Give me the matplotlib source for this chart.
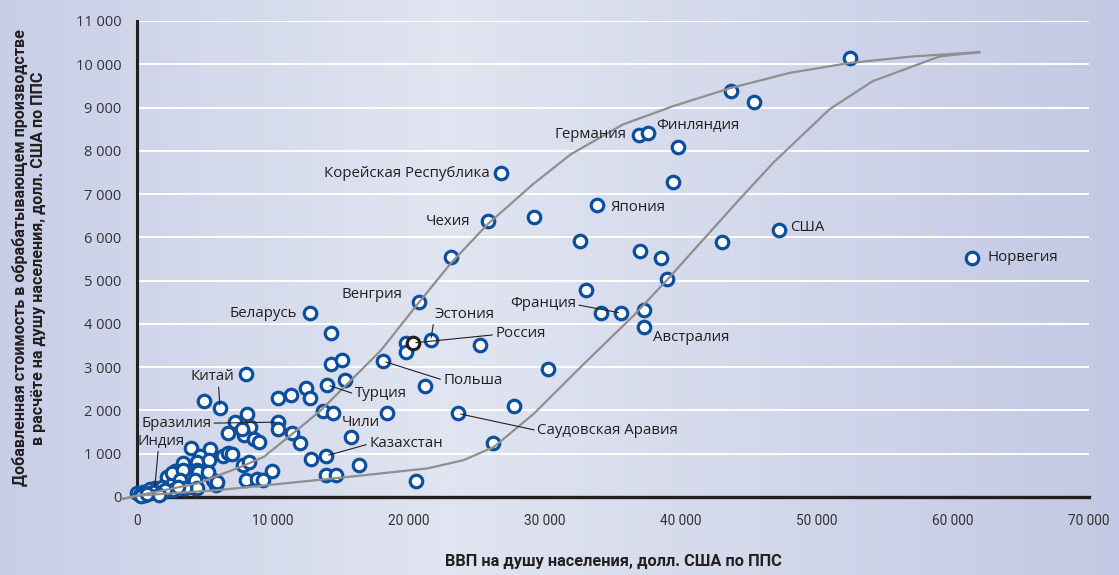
import numpy as np
import matplotlib
matplotlib.use("Agg")
import matplotlib.pyplot as plt
from matplotlib.colors import LinearSegmentedColormap

# ── data ──────────────────────────────────────────────────
# GDP per capita, PPP USD
gdp = [
    61400, 47200, 52400, 43700, 45400, 36900, 37600, 39800, 39400, 33800,
    32600, 37000, 38500, 39000, 43000, 33000, 35600, 34100, 37300, 37300,
    26800, 25800, 29200, 23100, 20700, 12700, 14300, 21600, 19800, 19800,
    25200, 14300, 15100, 18100, 30200, 15300, 14000, 12400, 12700, 21200,
    27700, 13700, 14400, 18400, 23600, 15700, 13900, 12800, 26200, 16300,
    13900, 14600, 20500, 12000, 11300, 10400, 4900, 6100, 8000, 8100,
    10400, 10400, 7200, 8300, 6700, 7900, 8600, 9000, 11400, 9900,
    7800, 8200, 8000, 8800, 9300, 5600, 5800, 4000, 5400, 4600,
    6300, 6700, 3400, 4400, 5300, 2800, 4400, 4300, 2500, 3400,
    2200, 1300, 0, 460, 960, 1810, 2670, 2550, 3400, 3160,
    4500, 5240, 4260, 4390, 3530, 2670, 1930, 1560, 590, 220,
    960, 2060, 3010, 7690, 5860, 1200, 300, 700, 1600, 7000,
]
# manufacturing value added per capita, PPP USD
mva = [
    5530, 6180, 10150, 9380, 9130, 8370, 8420, 8090, 7270, 6740,
    5920, 5680, 5520, 5040, 5900, 4780, 4250, 4250, 4320, 3920,
    7480, 6370, 6460, 5540, 4500, 4250, 3780, 3620, 3570, 3350,
    3520, 3080, 3160, 3140, 2950, 2700, 2590, 2530, 2280, 2560,
    2100, 1980, 1930, 1930, 1930, 1390, 950, 870, 1240, 750,
    510, 510, 380, 1250, 2350, 2280, 2210, 2060, 2840, 1910,
    1730, 1580, 1740, 1620, 1480, 1430, 1350, 1280, 1470, 590,
    740, 810, 390, 410, 390, 390, 280, 1140, 1120, 950,
    950, 1010, 790, 810, 850, 600, 620, 200, 320, 200,
    470, 200, 85, 120, 180, 240, 320, 550, 620, 390,
    580, 580, 390, 200, 200, 160, 120, 85, 50, 50,
    90, 160, 230, 1580, 350, 120, 20, 60, 40, 1000,
]

# Russia is highlighted with a black ring
russia = (20300, 3560)

# labelled countries: name, gdp, mva
lab_names = ["Норвегия", "США", "Финляндия", "Германия", "Корейская Республика",
             "Чехия", "Япония", "Венгрия", "Франция", "Австралия", "Эстония",
             "Россия", "Беларусь", "Польша", "Турция", "Китай", "Бразилия",
             "Индия", "Чили", "Казахстан", "Саудовская Аравия"]
lab_x = [61400, 47200, 37600, 36900, 26800, 25800, 33800, 20700, 35600, 37300,
         21600, 20300, 12700, 18100, 14000, 6100, 10400, 1300, 14400, 13900, 23600]
lab_y = [5530, 6180, 8420, 8370, 7480, 6370, 6740, 4500, 4250, 3920,
         3620, 3560, 4250, 3140, 2590, 2060, 1730, 200, 1930, 950, 1930]

# envelope curves
upper_x = [-1000, 0, 4460, 7640, 9330, 12050, 13520, 14990, 17930, 20720, 23070,
           25770, 29120, 31900, 35730, 39400, 43640, 47980, 52380, 57000, 61940]
upper_y = [-40, 30, 316, 698, 929, 1620, 2005, 2465, 3387, 4493, 5400,
           6300, 7230, 7920, 8610, 9030, 9450, 9800, 10030, 10180, 10280]
lower_x = [-1000, 0, 6000, 12050, 16000, 21360, 24000, 26250, 29190, 32870,
           36540, 39070, 42300, 44300, 46770, 50920, 54100, 59000, 61940]
lower_y = [-40, 30, 160, 353, 480, 661, 850, 1159, 1928, 3080,
           4200, 5050, 6180, 6880, 7720, 8960, 9610, 10180, 10280]

# ── label placement: offset in pixels, alignment, leader relpos ──
placement = {
    "Норвегия":             (15, 0, "left", None),
    "США":                  (11, 2, "left", None),
    "Финляндия":            (8, 7, "left", None),
    "Германия":             (-12, 0, "right", None),
    "Корейская Республика": (-12, 0, "right", None),
    "Чехия":                (-18, 0, "right", None),
    "Япония":               (14, -2, "left", None),
    "Венгрия":              (-16, 8, "right", None),
    "Франция":              (-45, 10, "right", (1.0, 0.4)),
    "Австралия":            (9, -10, "left", None),
    "Эстония":              (4, 26, "left", (0.0, 0.45)),
    "Россия":               (82, 9, "left", (0.0, 0.45)),
    "Беларусь":             (-13, 0, "right", None),
    "Польша":               (60, -19, "left", (0.0, 0.5)),
    "Турция":               (27, -9, "left", (0.0, 0.5)),
    "Китай":                (-8, 31, "center", (0.65, 0.0)),
    "Бразилия":             (-67, -1, "right", (1.0, 0.5)),
    "Индия":                (6, 47, "center", (0.45, 0.0)),
    "Чили":                 (9, -9, "left", None),
    "Казахстан":            (43, 12, "left", (0.0, 0.5)),
    "Саудовская Аравия":    (79, -17, "left", (0.0, 0.5)),
}

BLUE = "#0b4f9d"
TEXT = "#231f20"
CURVE = "#8f8f8f"
LABEL_FONT = ["Open Sans", "DejaVu Sans"]
NARROW = ["Roboto", "DejaVu Sans"]

fig = plt.figure(figsize=(11.19, 5.75), dpi=100)

# background gradient over the whole figure
bg = fig.add_axes([0, 0, 1, 1], zorder=-5)
bg.axis("off")
cmap = LinearSegmentedColormap.from_list(
    "bg", [(0.0, "#c8cee7"), (0.40, "#e1e5f1"), (1.0, "#c3c9e4")])
bg.imshow(np.linspace(0, 1, 512).reshape(1, -1), aspect="auto", cmap=cmap,
          extent=[0, 1, 0, 1])
bg.set_xlim(0, 1)
bg.set_ylim(0, 1)

ax = fig.add_axes([137 / 1119, 78 / 575, 952 / 1119, 476 / 575])
ax.set_facecolor("none")
ax.set_xlim(0, 70000)
ax.set_ylim(0, 11000)

# horizontal white grid
ax.set_yticks(np.arange(0, 11001, 1000))
ax.set_xticks(np.arange(0, 70001, 10000))
ax.grid(axis="y", color="white", lw=1.4, zorder=0)
ax.grid(axis="x", visible=False)
ax.set_axisbelow(True)

for s in ("top", "right"):
    ax.spines[s].set_visible(False)
ax.spines["left"].set_color(TEXT)
ax.spines["left"].set_linewidth(2.2)
ax.spines["bottom"].set_color(TEXT)
ax.spines["bottom"].set_linewidth(2.4)
ax.spines["left"].set_zorder(1)

fmt = lambda v: f"{int(v):,}".replace(",", " ")
ax.set_yticklabels([fmt(v) for v in ax.get_yticks()], fontfamily=LABEL_FONT,
                   fontsize=10.5, color="#333333")
ax.set_xticklabels([fmt(v) for v in ax.get_xticks()], fontfamily=NARROW,
                   fontsize=9.8, color="#333333")
ax.tick_params(axis="y", length=0, pad=11)
ax.tick_params(axis="x", length=0, pad=12)

# scatter
ax.plot(gdp, mva, "o", ms=9, mfc="white", mec=BLUE, mew=2.3,
        ls="none", zorder=3, clip_on=False)
ax.plot(*russia, "o", ms=9, mfc="white", mec=TEXT, mew=2.3,
        zorder=3.5, clip_on=False)

# envelope curves
ax.plot(upper_x, upper_y, color=CURVE, lw=1.6, zorder=4, clip_on=False,
        solid_joinstyle="round")
ax.plot(lower_x, lower_y, color=CURVE, lw=1.6, zorder=4, clip_on=False,
        solid_joinstyle="round")

# labels with leaders
for name, x, y in zip(lab_names, lab_x, lab_y):
    dx, dy, ha, rel = placement[name]
    kw = {}
    if rel is not None:
        kw["arrowprops"] = dict(arrowstyle="-", color=TEXT, lw=0.8,
                                shrinkA=0, shrinkB=2, relpos=rel)
    ax.annotate(name, xy=(x, y), xytext=(dx, dy), textcoords="offset pixels",
                ha=ha, va="center", fontsize=10.8, color=TEXT,
                fontfamily=LABEL_FONT, zorder=5, **kw)

# axis titles
fig.text(613 / 1119, 1 - 561 / 575, "ВВП на душу населения, долл. США по ППС",
         ha="center", va="center", fontsize=11.8, fontweight="bold",
         color=TEXT, fontfamily=NARROW)
fig.text(29 / 1119, 1 - 258 / 575,
         "Добавленная стоимость в обрабатывающем производстве\n"
         "в расчёте на душу населения, долл. США по ППС",
         ha="center", va="center", rotation=90, multialignment="center",
         fontsize=11.6, fontweight="bold", color=TEXT, fontfamily=NARROW,
         linespacing=1.25)

fig.savefig("out.png", dpi=100)
